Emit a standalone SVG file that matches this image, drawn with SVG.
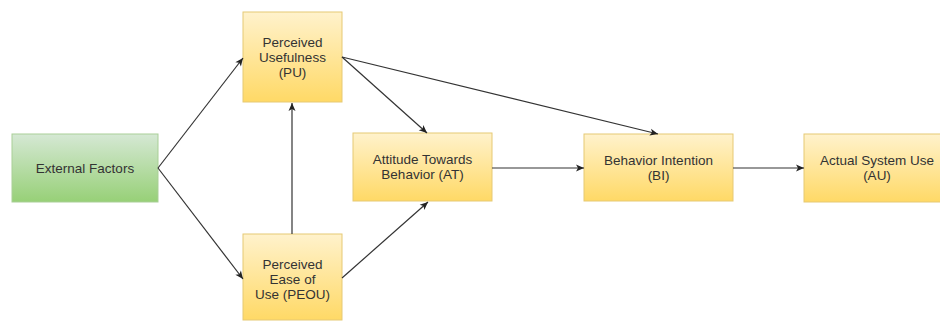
<svg xmlns="http://www.w3.org/2000/svg" width="940" height="322" viewBox="0 0 940 322">
<defs>
<linearGradient id="gy" x1="0" y1="0" x2="0" y2="1"><stop offset="0" stop-color="#fff2cc"/><stop offset="1" stop-color="#ffd966"/></linearGradient>
<linearGradient id="gg" x1="0" y1="0" x2="0" y2="1"><stop offset="0" stop-color="#d5e8d4"/><stop offset="1" stop-color="#97d077"/></linearGradient>
<marker id="ah" markerWidth="10" markerHeight="10" refX="9" refY="5" orient="auto" markerUnits="userSpaceOnUse"><path d="M1,1.5 L9,5 L1,8.5 L3,5 Z" fill="#222"/></marker>
</defs>
<style>
.y{fill:url(#gy);stroke:#e6c975;stroke-width:1}
.g{fill:url(#gg);stroke:#a9cf97;stroke-width:1}
text{font-family:"Liberation Sans",Arial,sans-serif;font-size:13.5px;fill:#333;text-anchor:middle}
.c line{stroke:#333;stroke-width:1.2;marker-end:url(#ah)}
</style>
<rect width="940" height="322" fill="#fff"/>
<g id="ef"><rect class="g" x="12" y="134" width="146" height="68"/><text x="85" y="172.5">External Factors</text></g>
<g id="pu"><rect class="y" x="243" y="12" width="99" height="90"/><text x="292.5" y="46.5">Perceived</text><text x="292.5" y="61.5">Usefulness</text><text x="292.5" y="76.5">(PU)</text></g>
<g id="peou"><rect class="y" x="243" y="234" width="99" height="86"/><text x="292.5" y="268.5">Perceived</text><text x="292.5" y="283.5">Ease of</text><text x="292.5" y="298.5">Use (PEOU)</text></g>
<g id="at"><rect class="y" x="353" y="133" width="139" height="68"/><text x="422.5" y="163.5">Attitude Towards</text><text x="422.5" y="178.5">Behavior (AT)</text></g>
<g id="bi"><rect class="y" x="584" y="134" width="149" height="67"/><text x="658.5" y="164.5">Behavior Intention</text><text x="658.5" y="179.5">(BI)</text></g>
<g id="au"><rect class="y" x="804" y="134" width="146" height="68"/><text x="877" y="164.5">Actual System Use</text><text x="877" y="179.5">(AU)</text></g>
<g class="c" id="connectors">
<line x1="158" y1="168" x2="243" y2="58"/>
<line x1="158" y1="168" x2="243" y2="279"/>
<line x1="292" y1="234" x2="292" y2="103"/>
<line x1="342" y1="57" x2="427" y2="133"/>
<line x1="342" y1="57" x2="658" y2="134"/>
<line x1="342" y1="278" x2="428" y2="202"/>
<line x1="492" y1="168" x2="584" y2="168"/>
<line x1="733" y1="168" x2="804" y2="168"/>
</g>
</svg>
